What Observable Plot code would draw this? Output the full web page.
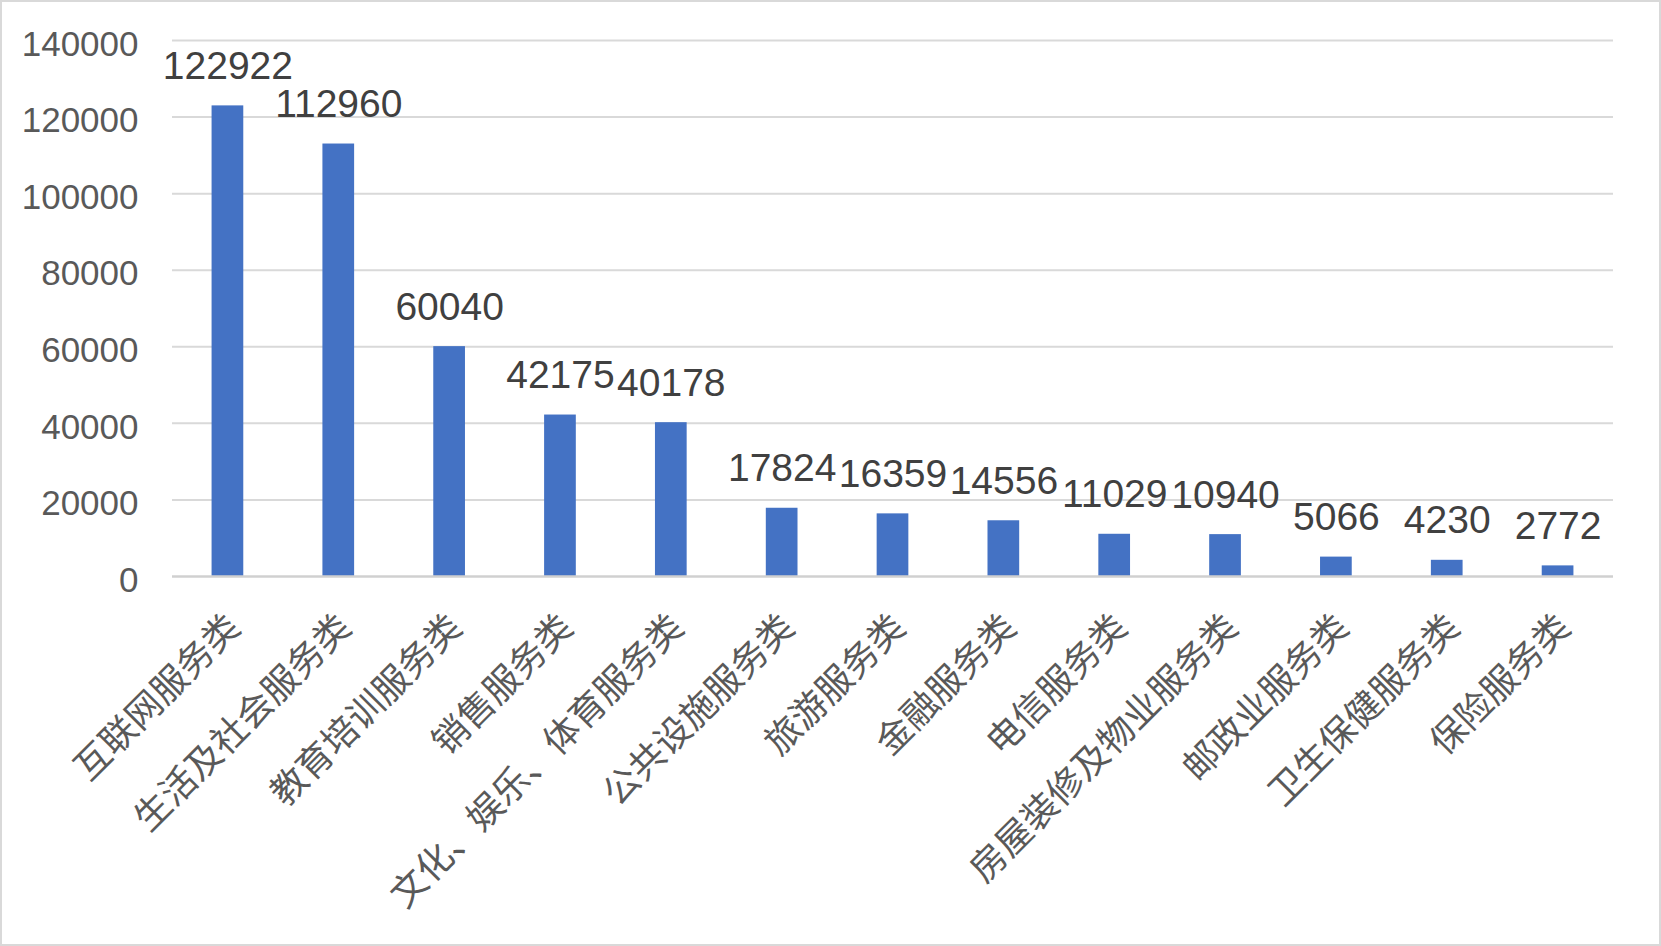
<!DOCTYPE html>
<html>
<head>
<meta charset="utf-8">
<script src="https://cdn.jsdelivr.net/npm/d3@7"></script>
<script src="https://cdn.jsdelivr.net/npm/@observablehq/plot@0.6"></script>
<style>
  html, body { margin: 0; padding: 0; background: #fff; }
  #wrap { position: relative; width: 1661px; height: 946px; overflow: hidden; }
  #frame { position: absolute; left: 0; top: 0; width: 1661px; height: 946px; box-sizing: border-box; border: 2px solid #d9d9d9; pointer-events: none; }
</style>
</head>
<body>
<div id="wrap"><div id="chart"></div><div id="frame"></div></div>
<script>
const categories = ["互联网服务类", "生活及社会服务类", "教育培训服务类", "销售服务类", "文化、娱乐、体育服务类", "公共设施服务类", "旅游服务类", "金融服务类", "电信服务类", "房屋装修及物业服务类", "邮政业服务类", "卫生保健服务类", "保险服务类"];
const values = [122922, 112960, 60040, 42175, 40178, 17824, 16359, 14556, 11029, 10940, 5066, 4230, 2772];
const yTicks = [0, 20000, 40000, 60000, 80000, 100000, 120000, 140000];

const data = categories.map((c, i) => ({cat: c, value: values[i]}));
const latin = "'Liberation Sans', Arial, sans-serif";
const cjk = "'Noto Sans CJK SC', sans-serif";

const chart = Plot.plot({
  width: 1661,
  height: 946,
  marginLeft: 172,
  marginRight: 48,
  marginTop: 40,
  marginBottom: 370,
  style: {background: "#fff", overflow: "visible"},
  x: {type: "band", domain: categories, paddingInner: 0.714, paddingOuter: 0.357, round: false, axis: null},
  y: {domain: [0, 140000], axis: null},
  marks: [
    Plot.ruleY(yTicks.filter(d => d > 0), {stroke: "#d9d9d9", strokeWidth: 2}),
    Plot.barY(data, {x: "cat", y: "value", fill: "#4472C4"}),
    Plot.ruleY([0], {stroke: "#d0d0d0", strokeWidth: 2.5}),
    Plot.text(yTicks, {y: d => d, text: d => String(d), frameAnchor: "left", textAnchor: "end", dx: -34, dy: 4, fontSize: 35, fill: "#595959", fontFamily: latin}),
    Plot.text(data, {x: "cat", y: "value", text: d => String(d.value), lineAnchor: "bottom", dy: -27, fontSize: 39, fill: "#404040", fontFamily: latin}),
    Plot.text(data, {x: "cat", text: "cat", frameAnchor: "bottom", rotate: -45, textAnchor: "end", lineAnchor: "middle", dx: 6, dy: 45, fontSize: 36, fill: "#595959", fontFamily: cjk})
  ]
});
document.getElementById("chart").appendChild(chart);
</script>
</body>
</html>
